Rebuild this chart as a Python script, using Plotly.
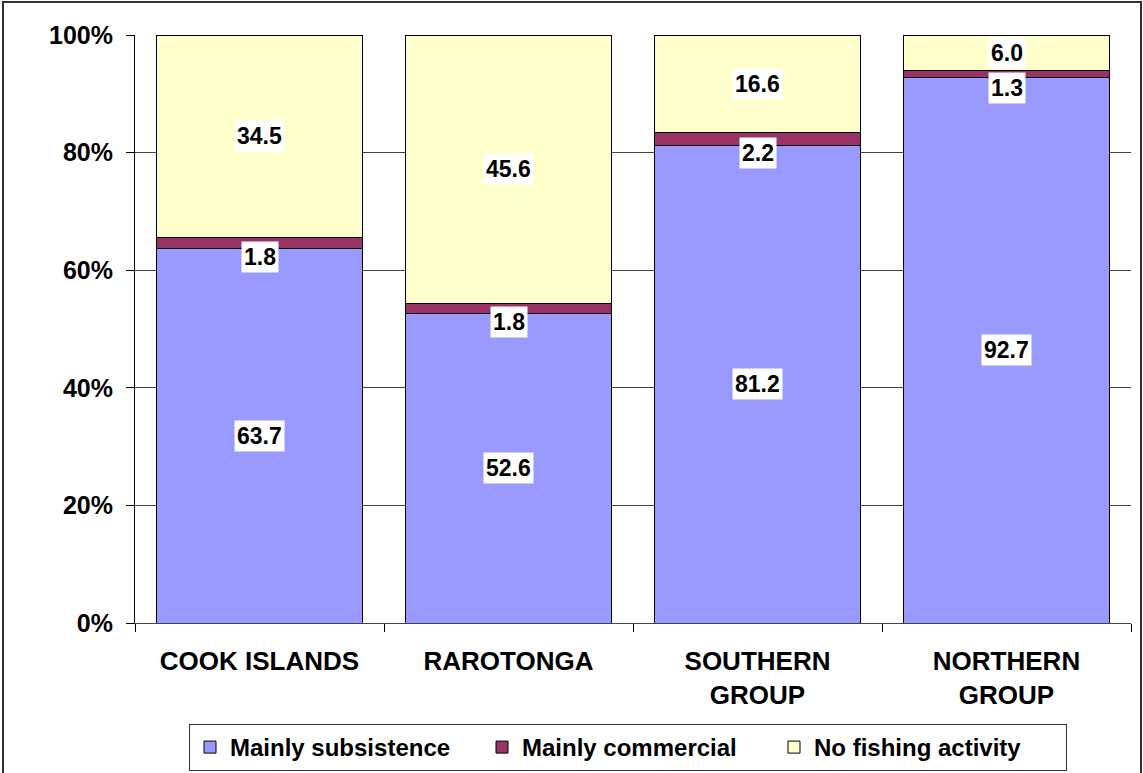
import plotly.graph_objects as go

categories = ["COOK ISLANDS", "RAROTONGA", "SOUTHERN<br>GROUP", "NORTHERN<br>GROUP"]
subsistence = [63.7, 52.6, 81.2, 92.7]
commercial = [1.8, 1.8, 2.2, 1.3]
no_fishing = [34.5, 45.6, 16.6, 6.0]
y_ticks = [0, 20, 40, 60, 80, 100]

FONT = "Liberation Sans, Arial, sans-serif"
W, H = 1143, 773
L, R, T = 135, 12, 35
PLOT_BOTTOM = 623
B = H - PLOT_BOTTOM
PW, PH = W - L - R, H - T - B

fig = go.Figure()
series = [
    ("Mainly subsistence", subsistence, "#9999FF"),
    ("Mainly commercial", commercial, "#993366"),
    ("No fishing activity", no_fishing, "#FFFFCC"),
]
for name, vals, col in series:
    fig.add_trace(go.Bar(
        x=categories, y=vals, name=f"<b>{name}</b>",
        marker=dict(color=col, line=dict(color="#000000", width=1)),
        hoverinfo="skip",
    ))

# data labels
LBL = dict(family=FONT, size=23, color="black")
for i, cat in enumerate(categories):
    s, c, n = subsistence[i], commercial[i], no_fishing[i]
    fig.add_annotation(x=cat, y=s / 2, text=f"<b>{s:.1f}</b>", showarrow=False,
                       bgcolor="white", borderpad=2, font=LBL)
    fig.add_annotation(x=cat, y=s + c / 2, yshift=-14, text=f"<b>{c:.1f}</b>",
                       showarrow=False, bgcolor="white", borderpad=2, font=LBL)
    fig.add_annotation(x=cat, y=s + c + n / 2, text=f"<b>{n:.1f}</b>", showarrow=False,
                       bgcolor="white", borderpad=2, font=LBL)

def px2x(px):
    return (px - L) / PW

def py2y(py):
    return (PLOT_BOTTOM - py) / PH

# outer frame
fig.add_shape(type="rect", xref="paper", yref="paper",
              x0=px2x(3), x1=px2x(1141), y0=py2y(800), y1=py2y(2),
              line=dict(color="#333333", width=2), fillcolor="rgba(0,0,0,0)", layer="below")

fig.update_layout(
    width=W, height=H,
    margin=dict(l=L, r=R, t=T, b=B, autoexpand=False),
    barmode="stack",
    bargap=0.17,
    plot_bgcolor="white",
    paper_bgcolor="white",
    font=dict(family=FONT, color="black"),
    showlegend=True,
    legend=dict(
        orientation="h", x=px2x(628), xanchor="center", y=py2y(771), yanchor="bottom",
        bgcolor="white", bordercolor="#333333", borderwidth=1,
        font=dict(family=FONT, size=24, color="black"),
        traceorder="normal", itemwidth=30,
        entrywidth=247, entrywidthmode="pixels",
    ),
)
fig.update_yaxes(
    range=[0, 100], tickvals=y_ticks, ticktext=[f"<b>{v}%</b>" for v in y_ticks],
    showgrid=True, gridcolor="#444444", gridwidth=1,
    showline=True, linecolor="#000000", linewidth=1,
    ticks="outside", ticklen=8, tickcolor="#000000",
    tickfont=dict(family=FONT, size=25, color="black"),
    ticklabelstandoff=8, automargin=False,
    zeroline=False,
)
fig.update_xaxes(
    tickvals=categories, ticktext=[f"<b>{c}</b>" for c in categories],
    showline=True, linecolor="#444444", linewidth=1,
    ticks="outside", ticklen=8, tickcolor="#000000", tickson="boundaries",
    tickfont=dict(family=FONT, size=26, color="black"),
    ticklabelstandoff=15, automargin=False,
)

fig.write_html(
    "out.html",
    config={"displayModeBar": False},
    post_script="document.body.style.margin='0';document.documentElement.style.overflow='hidden';",
)
